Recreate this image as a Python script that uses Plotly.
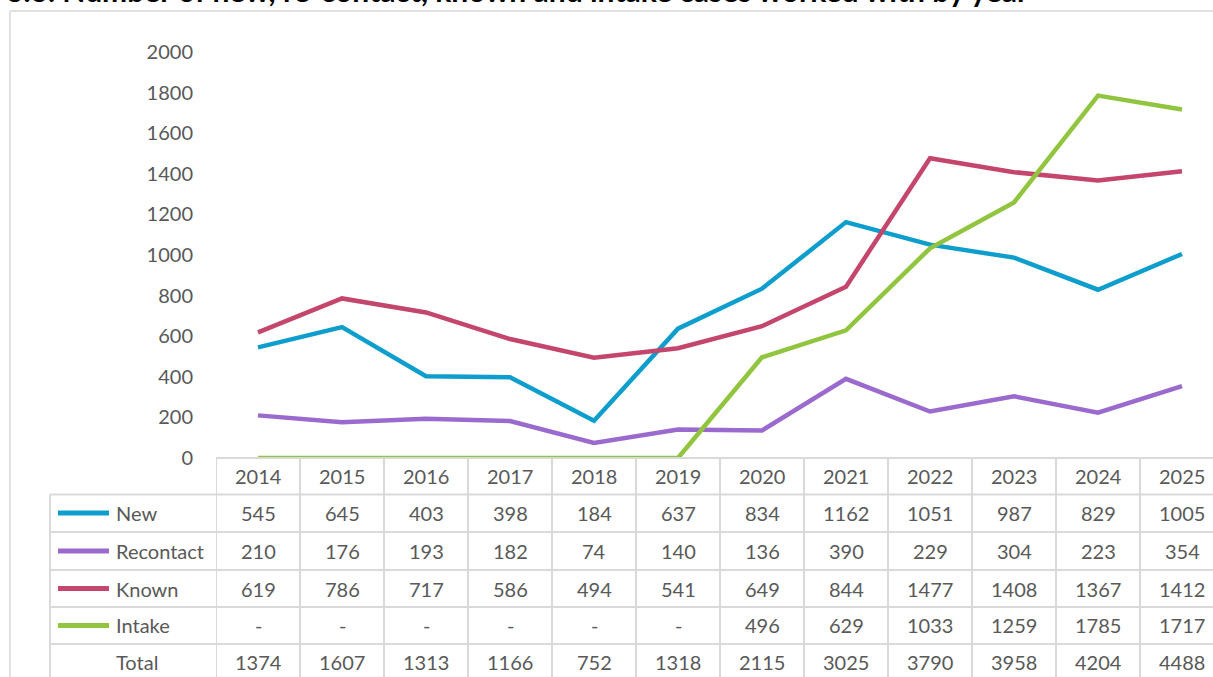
import plotly.graph_objects as go

years = ["2014", "2015", "2016", "2017", "2018", "2019", "2020", "2021", "2022", "2023", "2024", "2025"]
new = [545, 645, 403, 398, 184, 637, 834, 1162, 1051, 987, 829, 1005]
recontact = [210, 176, 193, 182, 74, 140, 136, 390, 229, 304, 223, 354]
known = [619, 786, 717, 586, 494, 541, 649, 844, 1477, 1408, 1367, 1412]
intake = [0, 0, 0, 0, 0, 0, 496, 629, 1033, 1259, 1785, 1717]
total = [1374, 1607, 1313, 1166, 752, 1318, 2115, 3025, 3790, 3958, 4204, 4488]
y_ticks = [0, 200, 400, 600, 800, 1000, 1200, 1400, 1600, 1800, 2000]

series = [
    ("New", new, "#0E9ECE"),
    ("Recontact", recontact, "#9B6ACF"),
    ("Known", known, "#C4466D"),
    ("Intake", intake, "#92C53F"),
]

W_PX, H_PX = 1213, 677
L, R_EDGE, TOP, BOT = 216, 1213, 30, 458
PW, PH = R_EDGE - L, BOT - TOP
COL = 84.0

def xp(px):
    return (px - L) / PW

def yp(py):
    return (BOT - py) / PH

xs = list(range(len(years)))
fig = go.Figure()
for name, vals, col in series:
    fig.add_trace(go.Scatter(x=xs, y=vals, mode="lines", name=name,
                             line=dict(color=col, width=4.5), hoverinfo="skip"))

grid = "#D9D9D9"
txt = "#595959"
FONT = "Lato"
FS = 20
shapes = []
ann = []

# outer chart border
shapes.append(dict(type="line", xref="paper", yref="paper", x0=xp(10), x1=xp(1300), y0=yp(11), y1=yp(11),
                   line=dict(color=grid, width=1.5)))
shapes.append(dict(type="line", xref="paper", yref="paper", x0=xp(10), x1=xp(10), y0=yp(11), y1=yp(700),
                   line=dict(color=grid, width=1.5)))

# table rows
row_lines = [458, 494.5, 532, 570, 607, 644]
for i, ry in enumerate(row_lines):
    x0 = L if i == 0 else 50
    shapes.append(dict(type="line", xref="paper", yref="paper", x0=xp(x0), x1=xp(1300), y0=yp(ry), y1=yp(ry),
                       line=dict(color=grid, width=2)))
# vertical lines
shapes.append(dict(type="line", xref="paper", yref="paper", x0=xp(50), x1=xp(50), y0=yp(494.5), y1=yp(700),
                   line=dict(color=grid, width=2)))
for i in range(len(years)):
    xb = i - 0.5
    shapes.append(dict(type="line", xref="x", yref="paper", x0=xb, x1=xb, y0=yp(458), y1=yp(700),
                       line=dict(color=grid, width=2)))

# header years
for i, yr in enumerate(years):
    ann.append(dict(x=i, y=yp(476), xref="x", yref="paper", text=yr, showarrow=False,
                    font=dict(family=FONT, size=FS, color=txt), xanchor="center", yanchor="middle"))

row_centers = [513, 551, 588.5, 625.5, 662]
rows = [(n, v, c) for n, v, c in series] + [("Total", total, None)]
for (name, vals, col), cy in zip(rows, row_centers):
    if col:
        shapes.append(dict(type="line", xref="paper", yref="paper", x0=xp(58), x1=xp(109), y0=yp(cy), y1=yp(cy),
                           line=dict(color=col, width=5)))
    ann.append(dict(x=xp(114), y=yp(cy), xref="paper", yref="paper", text=name, showarrow=False,
                    font=dict(family=FONT, size=FS, color=txt), xanchor="left", yanchor="middle"))
    for i, v in enumerate(vals):
        s = "-" if (name == "Intake" and v == 0) else str(v)
        ann.append(dict(x=i, y=yp(cy), xref="x", yref="paper", text=s, showarrow=False,
                        font=dict(family=FONT, size=FS, color=txt), xanchor="center", yanchor="middle"))

# title (cut off at top in reference)
ann.append(dict(x=xp(4), y=yp(10.5), xref="paper", yref="paper",
                text="<b>6.6. Number of new, re-contact, known and intake cases worked with by year</b>",
                showarrow=False, font=dict(family=FONT, size=30, color="#000000"),
                xanchor="left", yanchor="bottom"))

fig.update_layout(
    width=W_PX, height=H_PX,
    margin=dict(l=L, r=W_PX - R_EDGE, t=TOP, b=H_PX - BOT),
    paper_bgcolor="white", plot_bgcolor="white",
    showlegend=False,
    shapes=shapes, annotations=ann,
    xaxis=dict(range=[-0.5, -0.5 + PW / COL], showticklabels=False, showgrid=False, zeroline=False,
               showline=False, ticks=""),
    yaxis=dict(range=[0, PH / (406 / 2000)], tickvals=y_ticks, showgrid=False, zeroline=False,
               showline=False, ticks="", ticklabelstandoff=22,
               tickfont=dict(family=FONT, size=FS, color=txt)),
)

fig.write_html("out.html", config={"displayModeBar": False},
               post_script="document.body.style.margin='0';document.body.style.overflow='hidden';")
